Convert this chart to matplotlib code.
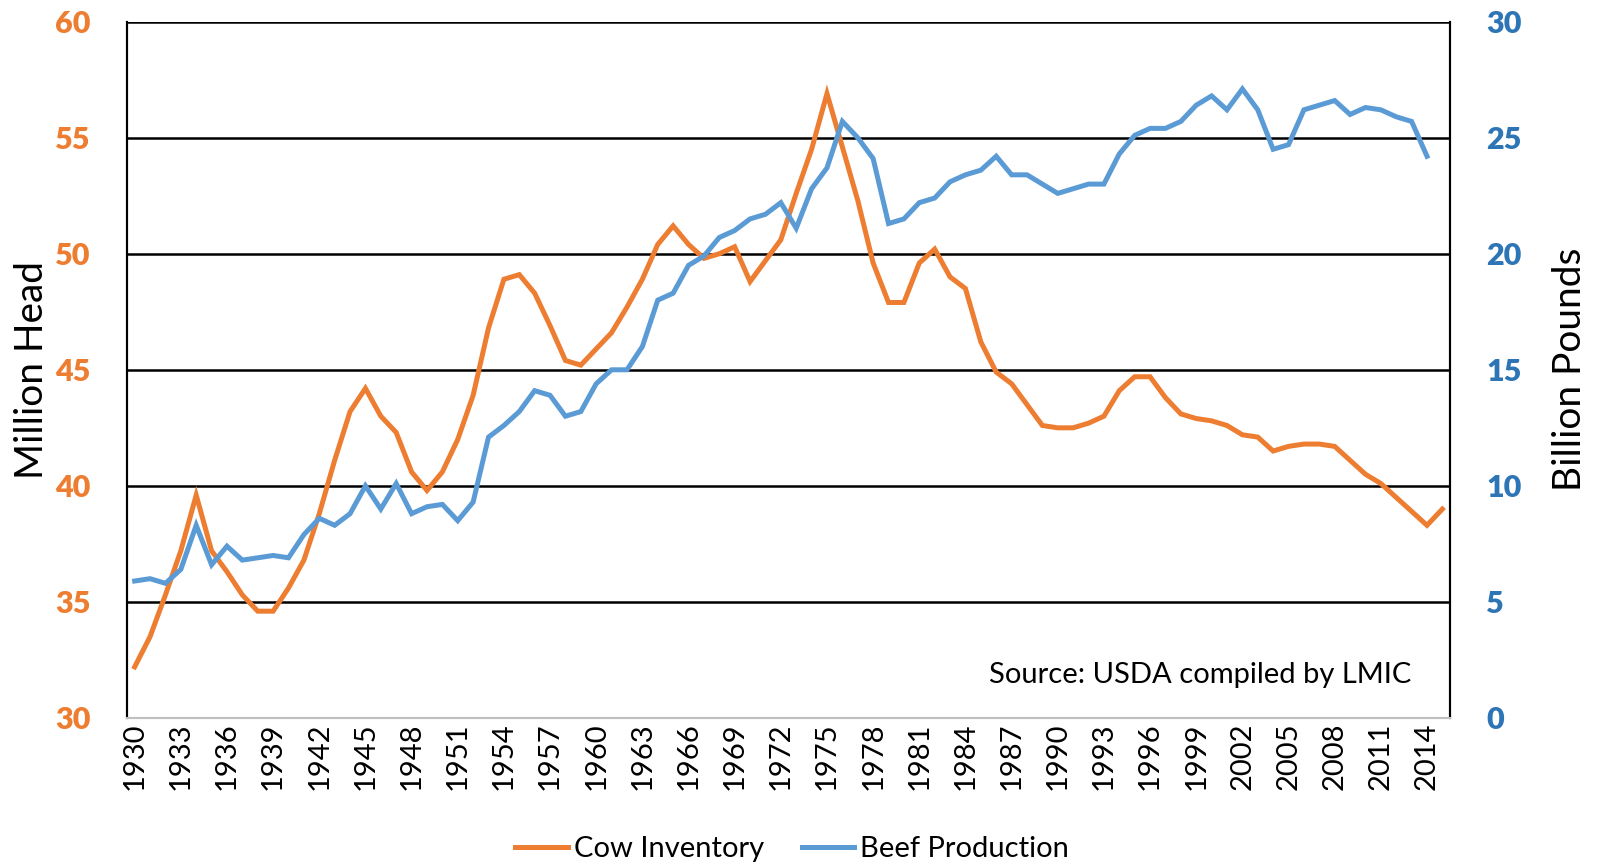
import matplotlib
matplotlib.use("Agg")
import matplotlib.pyplot as plt
import numpy as np

plt.rcParams['font.family'] = ['Lato', 'DejaVu Sans']

years = list(range(1930, 2016))
cow_inventory = [32.2, 33.5, 35.3, 37.2, 39.6, 37.2, 36.3, 35.3, 34.6, 34.6,
                 35.6, 36.8, 38.8, 41.1, 43.2, 44.2, 43.0, 42.3, 40.6, 39.8,
                 40.6, 42.0, 43.9, 46.8, 48.9, 49.1, 48.3, 46.9, 45.4, 45.2,
                 45.9, 46.6, 47.7, 48.9, 50.4, 51.2, 50.4, 49.8, 50.0, 50.3,
                 48.8, 49.7, 50.6, 52.6, 54.5, 56.9, 54.6, 52.3, 49.6, 47.9,
                 47.9, 49.6, 50.2, 49.0, 48.5, 46.2, 44.9, 44.4, 43.5, 42.6,
                 42.5, 42.5, 42.7, 43.0, 44.1, 44.7, 44.7, 43.8, 43.1, 42.9,
                 42.8, 42.6, 42.2, 42.1, 41.5, 41.7, 41.8, 41.8, 41.7, 41.1,
                 40.5, 40.1, 39.5, 38.9, 38.3, 39.0]
beef_years = list(range(1930, 2015))
beef_production = [5.9, 6.0, 5.8, 6.4, 8.3, 6.6, 7.4, 6.8, 6.9, 7.0,
                   6.9, 7.9, 8.6, 8.3, 8.8, 10.0, 9.0, 10.1, 8.8, 9.1,
                   9.2, 8.5, 9.3, 12.1, 12.6, 13.2, 14.1, 13.9, 13.0, 13.2,
                   14.4, 15.0, 15.0, 16.0, 18.0, 18.3, 19.5, 19.9, 20.7, 21.0,
                   21.5, 21.7, 22.2, 21.1, 22.8, 23.7, 25.7, 25.0, 24.1, 21.3,
                   21.5, 22.2, 22.4, 23.1, 23.4, 23.6, 24.2, 23.4, 23.4, 23.0,
                   22.6, 22.8, 23.0, 23.0, 24.3, 25.1, 25.4, 25.4, 25.7, 26.4,
                   26.8, 26.2, 27.1, 26.2, 24.5, 24.7, 26.2, 26.4, 26.6, 26.0,
                   26.3, 26.2, 25.9, 25.7, 24.2]
x_tick_years = list(range(1930, 2015, 3))
left_ticks = [30, 35, 40, 45, 50, 55, 60]
right_ticks = [0, 5, 10, 15, 20, 25, 30]

ORANGE = '#ED7D31'
BLUE = '#5B9BD5'
BLUE_DARK = '#2E75B6'

fig = plt.figure(figsize=(15.97, 8.65), dpi=100)
ax1 = fig.add_axes([0.0795, 0.170, 0.908 - 0.0795, 0.975 - 0.170])
ax2 = ax1.twinx()

ax1.set_xlim(1929.5, 2015.5)
ax1.set_ylim(30, 60)
ax2.set_ylim(0, 30)

for v in left_ticks[1:]:
    ax1.axhline(v, color='black', lw=1.8, zorder=1)

l1, = ax1.plot(years, cow_inventory, color=ORANGE, lw=3.6, zorder=3,
               solid_joinstyle='miter', label='Cow Inventory')
l2, = ax2.plot(beef_years, beef_production, color=BLUE, lw=3.6, zorder=3,
               solid_joinstyle='miter', label='Beef Production')

ax1.set_yticks(left_ticks)
ax2.set_yticks(right_ticks)
ax1.set_xticks(x_tick_years)
ax1.set_xticklabels([str(y) for y in x_tick_years], rotation=90, fontsize=21,
                    color='black')
ax1.tick_params(axis='x', length=0, pad=3)
ax1.tick_params(axis='y', length=0, pad=26, labelsize=22, labelcolor=ORANGE)
ax2.tick_params(axis='y', length=0, pad=26, labelsize=22, labelcolor=BLUE_DARK)
for lab in ax1.get_yticklabels():
    lab.set_fontweight('heavy')
for lab in ax2.get_yticklabels():
    lab.set_fontweight('heavy')

for ax in (ax1, ax2):
    ax.spines['top'].set_visible(False)
    ax.spines['bottom'].set_color('#BFBFBF')
    ax.spines['bottom'].set_linewidth(1.5)
    ax.spines['left'].set_color('black')
    ax.spines['left'].set_linewidth(1.5)
    ax.spines['right'].set_color('black')
    ax.spines['right'].set_linewidth(1.5)

ax1.set_ylabel('Million Head', fontsize=28, color='black', labelpad=4)
ax2.set_ylabel('Billion Pounds', fontsize=28, color='black', labelpad=22,
               rotation=90)

ax1.text(0.971, 0.0617, 'Source: USDA compiled by LMIC', transform=ax1.transAxes,
         ha='right', va='center', fontsize=21, color='black')

fig.legend(handles=[l1, l2], loc='center', bbox_to_anchor=(0.496, 0.018),
           ncol=2, frameon=False, fontsize=21, handlelength=1.8,
           columnspacing=1.3, handletextpad=0.2)

fig.savefig('out.png', dpi=100)
